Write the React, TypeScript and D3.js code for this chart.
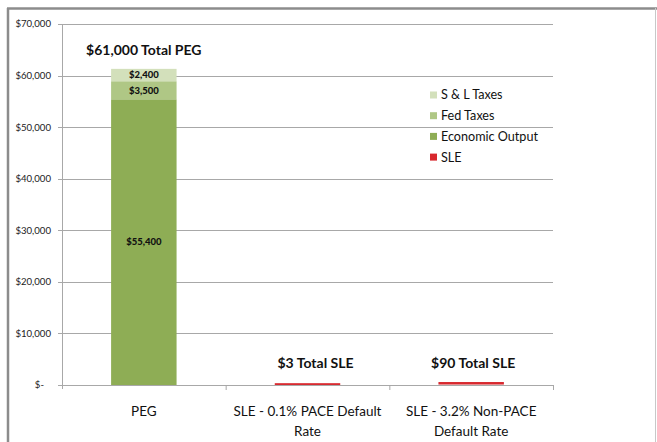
import * as d3 from "d3"

const categories = ["PEG", "SLE - 0.1% PACE Default Rate", "SLE - 3.2% Non-PACE Default Rate"]
const categoryLines = [["PEG"], ["SLE - 0.1% PACE Default", "Rate"], ["SLE - 3.2% Non-PACE", "Default Rate"]]
const economicOutput = [55400, 0, 0]
const fedTaxes = [3500, 0, 0]
const slTaxes = [2400, 0, 0]
const sle = [0, 3, 90]
const totalLabels = ["$61,000 Total PEG", "$3 Total SLE", "$90 Total SLE"]
const yTicks = [0, 10000, 20000, 30000, 40000, 50000, 60000, 70000]
const legendItems = ["S & L Taxes", "Fed Taxes", "Economic Output", "SLE"]

const colors: Record<string, string> = {
  "Economic Output": "#8EAD55",
  "Fed Taxes": "#AFC785",
  "S & L Taxes": "#D3E0BB",
  SLE: "#D8282E",
}

const font = "Lato, 'Open Sans', sans-serif"

export default function App() {
  const left = 62
  const right = 553
  const top = 24
  const bottom = 385

  const x = d3.scaleBand().domain(categories).range([left, right]).paddingInner(0.6).paddingOuter(0.3)
  const band = d3.scaleBand().domain(categories).range([left, right])
  const y = d3.scaleLinear().domain([0, 70000]).range([bottom, top])

  const fmt = (v: number) => (v === 0 ? "$-" : "$" + d3.format(",")(v))

  // stacked series for the PEG bar
  const series = [
    { key: "Economic Output", values: economicOutput },
    { key: "Fed Taxes", values: fedTaxes },
    { key: "S & L Taxes", values: slTaxes },
  ]

  const segments: any[] = []
  categories.forEach((c, i) => {
    let base = 0
    series.forEach((s) => {
      const v = s.values[i]
      if (v > 0) {
        segments.push({ cat: c, key: s.key, y0: base, y1: base + v, v })
        base += v
      }
    })
  })

  const stackTop = (i: number) => economicOutput[i] + fedTaxes[i] + slTaxes[i] + sle[i]

  return (
    <svg width={657} height={442} style={{ position: "absolute", left: 0, top: 0, background: "#fff" }} fontFamily={font}>
      {/* frame */}
      <line x1={8} x2={8} y1={8} y2={442} stroke="#8c8c8c" strokeWidth={2.5} />
      <line x1={7} x2={657} y1={8.5} y2={8.5} stroke="#8c8c8c" strokeWidth={2.5} />
      <line x1={655.5} x2={655.5} y1={8} y2={442} stroke="#c8c8c8" strokeWidth={1} />

      {/* gridlines */}
      {yTicks.map((t) => (
        <g key={t}>
          <line x1={left} x2={right} y1={Math.round(y(t)) + 0.5} y2={Math.round(y(t)) + 0.5} stroke="#a8a8a8" strokeWidth={1} />
          <line x1={left - 4} x2={left} y1={Math.round(y(t)) + 0.5} y2={Math.round(y(t)) + 0.5} stroke="#a8a8a8" />
          <text
            x={t === 0 ? 44 : 51}
            y={y(t)}
            dy="0.35em"
            textAnchor="end"
            fontSize={9.6}
            fill="#222"
          >
            {fmt(t)}
          </text>
        </g>
      ))}
      <line x1={left + 0.5} x2={left + 0.5} y1={top} y2={bottom + 4} stroke="#a8a8a8" />
      {categories.map((c) => (
        <line key={c} x1={(band(c) as number) + band.bandwidth() + 0.5} x2={(band(c) as number) + band.bandwidth() + 0.5} y1={bottom} y2={bottom + 5} stroke="#a8a8a8" />
      ))}

      {/* stacked bars */}
      {segments.map((s, i) => (
        <rect key={i} x={x(s.cat)} width={x.bandwidth()} y={y(s.y1)} height={y(s.y0) - y(s.y1)} fill={colors[s.key]} />
      ))}
      {segments.map((s, i) => (
        <text
          key={"l" + i}
          x={(x(s.cat) as number) + x.bandwidth() / 2}
          y={y((s.y0 + s.y1) / 2)}
          dy="0.35em"
          textAnchor="middle"
          fontSize={9.5}
          fontWeight={900}
          fill="#111"
        >
          {fmt(s.v)}
        </text>
      ))}

      {/* SLE bars: tiny values, shown with a minimum visible height */}
      {categories.map((c, i) =>
        sle[i] > 0 ? (
          <rect
            key={"sle" + i}
            x={x(c)}
            width={x.bandwidth()}
            y={y(sle[i]) - Math.max(y(0) - y(sle[i]), sle[i] > 10 ? 2.5 : 1.8)}
            height={Math.max(y(0) - y(sle[i]), sle[i] > 10 ? 2.5 : 1.8)}
            fill={colors.SLE}
          />
        ) : null
      )}

      {/* total labels */}
      {categories.map((c, i) => (
        <text
          key={"t" + i}
          x={(x(c) as number) + x.bandwidth() / 2 + (i === 1 ? 8 : i === 2 ? 2 : 0)}
          y={i === 0 ? y(stackTop(i)) - 14 : y(stackTop(i)) - 17}
          textAnchor="middle"
          fontSize={14}
          fontWeight={700}
          fill="#111"
        >
          {totalLabels[i]}
        </text>
      ))}

      {/* category labels */}
      {categories.map((c, i) => (
        <text key={"c" + i} x={(band(c) as number) + band.bandwidth() / 2} y={bottom + 31} textAnchor="middle" fontSize={13.5} fill="#111">
          {categoryLines[i].map((ln, j) => (
            <tspan key={j} x={(band(c) as number) + band.bandwidth() / 2} dy={j === 0 ? 0 : 20}>
              {ln}
            </tspan>
          ))}
        </text>
      ))}

      {/* legend */}
      {legendItems.map((k, i) => (
        <g key={k} transform={`translate(430, ${95 + i * 20.7})`}>
          <rect x={0} y={-3.5} width={7} height={7} fill={colors[k]} />
          <text x={11} y={0} dy="0.35em" fontSize={12.6} fill="#111">
            {k}
          </text>
        </g>
      ))}
    </svg>
  )
}
